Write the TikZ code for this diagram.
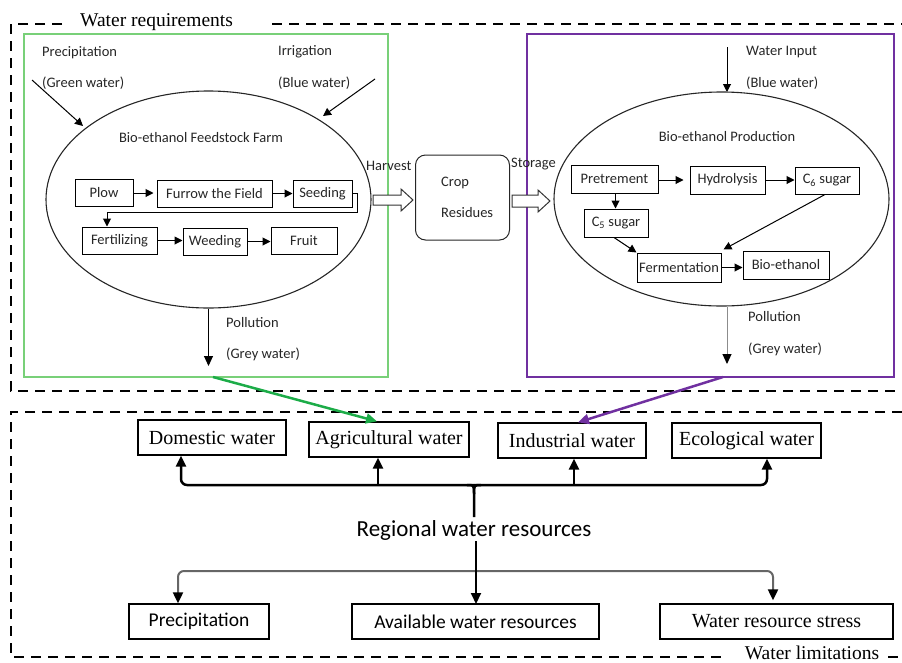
\documentclass[tikz,border=0pt]{standalone}
\usepackage{fontspec}
\setmainfont{Liberation Serif}
\newfontfamily\calfont{Carlito}
\usetikzlibrary{arrows.meta,shapes.geometric,calc}
\definecolor{txt}{HTML}{262626}
\definecolor{boxgreen}{RGB}{120,208,120}
\definecolor{arrgreen}{RGB}{28,172,72}
\definecolor{purp}{HTML}{7030A0}
\begin{document}
\begin{tikzpicture}[x=1pt,y=-1pt,
  sans/.style={font=\calfont\fontsize{14.5}{16}\selectfont, text=txt},
  pbox/.style={draw=black, line width=1pt, inner sep=0pt, minimum height=27pt, sans},
  lbl/.style={sans, anchor=west, inner sep=0pt},
  arr/.style={-{Triangle[length=8pt,width=8pt]}, line width=1pt},
  bigarr/.style={-{Triangle[length=10pt,width=9pt]}, line width=1pt},
  ell/.style={ellipse, draw=black!85, line width=1.1pt, inner sep=0pt},
  serifbox/.style={draw, line width=1.3pt, inner sep=0pt, minimum height=35pt, font=\fontsize{20}{22}\selectfont},
  sansbox/.style={draw, line width=1.3pt, inner sep=0pt, minimum height=35pt, font=\calfont\fontsize{19.5}{22}\selectfont},
  dline/.style={line width=2pt, dash pattern=on 10pt off 7pt},
  brk/.style={line width=2.5pt},
  brkarr/.style={brk, -{Triangle[length=11pt,width=10pt]}},
  lowarr/.style={line width=2pt, draw=black!60, -{Triangle[length=11pt,width=10pt,color=black]}},
  hollow/.style={draw=black!80, line width=1pt, fill=white}
]
\useasboundingbox (0,0) rectangle (902,662);

% ---------- dashed frames ----------
\draw[dline] (62,24) -- (11,24) -- (11,391) -- (902,391);
\draw[dline] (272,24) -- (902,24);
\node[anchor=base west, inner sep=0pt, font=\fontsize{19.5}{22}\selectfont] (wreq) at (80,26) {Water requirements};
\draw[dline] (902,412) -- (11,412) -- (11,657) -- (725,657);
\draw[dline] (888,657) -- (902,657);
\node[anchor=base, inner sep=0pt, font=\fontsize{19.5}{22}\selectfont] (wlim) at (812,659) {Water limitations};

% ---------- coloured frames ----------
\draw[boxgreen, line width=2.5pt] (24,34) rectangle (388,377);
\draw[purp, line width=2.5pt] (527,34) rectangle (894,377);
\coordinate (gbot) at (213,377);
\coordinate (pbot) at (723,377);

% ---------- farm ----------
\node[ell, minimum width=325pt, minimum height=217pt] (farm) at (208.5,199.5) {};
\node[sans] (farmt) at (201,138) {Bio-ethanol Feedstock Farm};
\node[pbox, minimum width=58pt] (plow) at (104,193) {Plow};
\node[pbox, minimum width=115pt] (furrow) at (214.5,193.5) {Furrow the Field};
\node[pbox, minimum width=59pt] (seed) at (322.5,193.5) {Seeding};
\node[pbox, minimum width=75pt] (fert) at (119.5,240.5) {Fertilizing};
\node[pbox, minimum width=64pt] (weed) at (215,241.5) {Weeding};
\node[pbox, minimum width=66pt] (fruit) at (304,241) {Fruit};
\draw[arr] (plow.east) -- ([xshift=-3pt]furrow.west |- plow.east);
\draw[arr] (furrow.east) -- (seed.west);
\draw[arr] (seed.east) -- ++(5,0) -- ++(0,18.5) -| ([xshift=-12.5pt]fert.north);
\draw[arr] (fert.east) -- (weed.west |- fert.east);
\draw[arr] (weed.east) -- (fruit.west |- weed.east);

\node[lbl] (prec) at (42,53) {Precipitation};
\node[lbl] (gw) at (42,83) {(Green water)};
\node[lbl] (irr) at (278,52) {Irrigation};
\node[lbl] (bw1) at (278,83) {(Blue water)};
\coordinate (pin) at (32,80); \coordinate (pend) at (83,126);
\coordinate (iin) at (375,79); \coordinate (iend) at (323,116);
\draw[arr] (pin) -- (pend);
\draw[arr] (iin) -- (iend);
\coordinate (fpol) at (208.5,366);
\draw[bigarr] (farm.south) -- (fpol);
\node[lbl] (pol1) at (226,323) {Pollution};
\node[lbl] (gr1) at (226,354) {(Grey water)};

% ---------- harvest / crop / storage ----------
\node[lbl] (harv) at (366,166) {Harvest};
\node[draw=black!85, line width=1pt, rounded corners=10pt, minimum width=94pt, minimum height=85pt, inner sep=0pt] (crop) at (462.5,197.5) {};
\node[lbl] (cropt) at (441,183) {Crop};
\node[lbl] (rest) at (441,213) {Residues};
\node[lbl] (stor) at (511,164) {Storage};
\draw[hollow] (373,195) -- (401,195) -- (401,189) -- (413,200) -- (401,211) -- (401,205) -- (373,205) -- cycle;
\draw[hollow] (512,195) -- (538,195) -- (538,190) -- (550,201) -- (538,212) -- (538,207) -- (512,207) -- cycle;

% ---------- production ----------
\node[ell, minimum width=335pt, minimum height=214pt] (prod) at (721.5,199) {};
\node[sans] (prodt) at (727,137) {Bio-ethanol Production};
\node[pbox, minimum width=87pt, minimum height=28pt] (pre) at (614.5,179) {Pretrement};
\node[pbox, minimum width=75pt, minimum height=28pt] (hyd) at (727.5,180) {Hydrolysis};
\node[pbox, minimum width=64pt] (c6) at (827,180.5) {C\textsubscript{6} sugar};
\node[pbox, minimum width=64pt, minimum height=28pt] (c5) at (616,223) {C\textsubscript{5} sugar};
\node[pbox, minimum width=84pt, minimum height=29pt] (ferm) at (679,267.5) {Fermentation};
\node[pbox, minimum width=86pt, minimum height=28pt] (bio) at (786,265) {Bio-ethanol};
\draw[arr] (pre.east |- hyd.west) -- ([xshift=-6pt]hyd.west);
\draw[arr] (hyd.east) -- (c6.west |- hyd.east);
\draw[arr] ([xshift=1pt]pre.south) -- ([xshift=1pt]pre.south |- c5.north);
\draw[arr] ([xshift=-2pt]c5.south) -- (ferm.north west);
\draw[arr] ([xshift=-2pt]c6.south) -- ([xshift=2pt,yshift=3pt]ferm.north east);
\draw[arr] (ferm.east) -- (bio.west |- ferm.east);

\coordinate (win) at (727,47);
\draw[arr] (win) -- (727,92);
\node[lbl] (wi) at (746,52) {Water Input};
\node[lbl] (bw2) at (746,83) {(Blue water)};
\coordinate (ppol) at (727,364);
\draw[line width=1pt, draw=black!45, -{Triangle[length=10pt,width=9pt,color=black]}] (727,307) -- (ppol);
\node[lbl] (pol2) at (748,317) {Pollution};
\node[lbl] (gr2) at (748,349) {(Grey water)};

% ---------- lower part ----------
\node[serifbox, minimum width=148pt] (dom) at (212,437.5) {Domestic water};
\node[serifbox, minimum width=160pt] (agr) at (389,439.5) {Agricultural water};
\node[serifbox, minimum width=148pt] (ind) at (572,440.5) {Industrial water};
\node[serifbox, minimum width=149pt] (eco) at (746.5,440.5) {Ecological water};

\draw[arrgreen, line width=2.5pt, -{Triangle[length=11pt,width=10pt]}] (gbot) -- ([xshift=-12pt]agr.north);
\draw[purp, line width=2.5pt, -{Triangle[length=11pt,width=10pt]}] (pbot) -- ([xshift=6pt]ind.north);

\node[inner sep=0pt, font=\calfont\fontsize{23}{26}\selectfont] (reg) at (474,530) {Regional water resources};

\coordinate (bC) at (474,485);
\draw[brkarr, rounded corners=6pt] (bC) -| ([xshift=-31pt]dom.south);
\draw[brkarr, rounded corners=6pt] (bC) -| ([xshift=20.5pt]eco.south);
\draw[brkarr] ([xshift=-11pt]agr.south |- bC) -- ([xshift=-11pt]agr.south);
\draw[brkarr] ([xshift=2pt]ind.south |- bC) -- ([xshift=2pt]ind.south);
\draw[brk] (467,485) .. controls (474,485) .. (474,494) -- (474,517);
\draw[brk] (481,485) .. controls (474,485) .. (474,494);

\node[sansbox, minimum width=140pt] (prc) at (199,621.5) {Precipitation};
\node[sansbox, minimum width=247pt] (avl) at (475.5,621.5) {Available water resources};
\node[serifbox, minimum width=233pt] (str) at (776.5,621.5) {Water resource stress};

\coordinate (lC) at (476,571);
\draw[lowarr, rounded corners=6pt] (lC) -| ([xshift=-21pt]prc.north);
\draw[lowarr, rounded corners=6pt] (lC) -| ([xshift=-3.5pt,yshift=3pt]str.north);
\draw[line width=2pt, -{Triangle[length=11pt,width=10pt]}] (476,541) -- (476,604);
\end{tikzpicture}
\end{document}
